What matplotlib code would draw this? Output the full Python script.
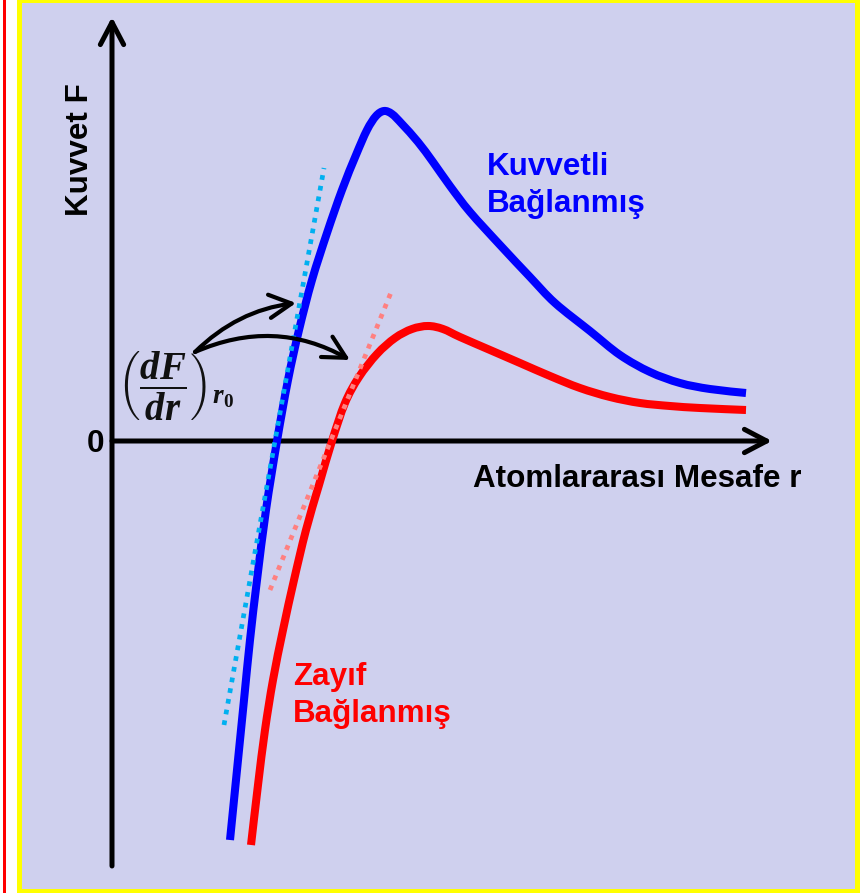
import matplotlib
matplotlib.use("Agg")
import matplotlib.pyplot as plt
import numpy as np
from matplotlib.patches import Rectangle, FancyArrowPatch, PathPatch
from matplotlib.path import Path

plt.rcParams['font.family'] = ['Liberation Sans', 'DejaVu Sans']
plt.rcParams['mathtext.fontset'] = 'custom'
plt.rcParams['mathtext.it'] = 'Liberation Serif:bold:italic'
plt.rcParams['mathtext.rm'] = 'Liberation Serif:bold'
plt.rcParams['mathtext.bf'] = 'Liberation Serif:bold'

# ---- data (r: interatomic distance, F: force; arbitrary units) ----
strong_r = [1.18, 1.25, 1.32, 1.38, 1.45, 1.54, 1.65, 1.76, 1.87, 2.00, 2.15, 2.30,
            2.44, 2.55, 2.64, 2.72, 2.80, 2.90, 3.06, 3.21, 3.38, 3.58, 3.88, 4.18,
            4.43, 4.78, 5.08, 5.38, 5.68, 5.98, 6.34]
strong_F = [-3.99, -3.29, -2.59, -1.99, -1.39, -0.69, 0.00, 0.61, 1.11, 1.61, 2.08, 2.51,
            2.86, 3.11, 3.25, 3.30, 3.27, 3.17, 2.99, 2.79, 2.55, 2.29, 1.96, 1.64,
            1.38, 1.10, 0.86, 0.69, 0.58, 0.52, 0.48]

weak_r = [1.39, 1.46, 1.53, 1.61, 1.71, 1.82, 1.94, 2.07, 2.20, 2.33, 2.47, 2.65,
          2.83, 3.00, 3.16, 3.31, 3.48, 3.78, 4.08, 4.38, 4.68, 4.98, 5.28, 5.58,
          5.88, 6.34]
weak_F = [-4.04, -3.44, -2.89, -2.39, -1.89, -1.39, -0.89, -0.44, 0.00, 0.38, 0.64, 0.87,
          1.03, 1.12, 1.15, 1.12, 1.04, 0.91, 0.78, 0.65, 0.53, 0.44, 0.38, 0.35,
          0.33, 0.31]

strong_tangent_r = [1.12, 2.12]
strong_tangent_F = [-2.84, 2.73]
weak_tangent_r = [1.58, 2.80]
weak_tangent_F = [-1.49, 1.51]

label_strong = ["Kuvvetli", "Bağlanmış"]
label_weak = ["Zayıf", "Bağlanmış"]
x_label = "Atomlararası Mesafe r"
y_label = "Kuvvet F"
origin_label = "0"
deriv_label = r'$\left(\dfrac{dF}{dr}\right)_{r_0}$'

W, H = 860, 893
fig = plt.figure(figsize=(W / 100, H / 100), dpi=100)
fig.patch.set_facecolor('white')


def frect(x0, y0, x1, y1, color, z=-5):
    fig.add_artist(Rectangle((x0 / W, 1 - y1 / H), (x1 - x0) / W, (y1 - y0) / H,
                             transform=fig.transFigure, facecolor=color,
                             edgecolor='none', zorder=z))


frect(2.5, 0, 5.5, H, '#FF0000')
frect(17, 0, 860, 893, '#FFFF00')
frect(22, 3, 855, 889, '#CFD0EE', z=-4)

ax = fig.add_axes([0, 0, 1, 1])
ax.patch.set_visible(False)
ax.set_xlim(-1.12, 7.48)
ax.set_ylim(-4.52, 4.41)
ax.axis('off')


def P(x, y):
    return ((x - 112) / 100, (441 - y) / 100)


def smooth_path(xs, ys):
    """Catmull-Rom curve through the given points, as cubic Bezier path."""
    pts = np.column_stack([xs, ys]).astype(float)
    ext = np.vstack([pts[0], pts, pts[-1]])
    verts = [pts[0]]
    codes = [Path.MOVETO]
    for i in range(1, len(ext) - 2):
        p0, p1, p2, p3 = ext[i - 1], ext[i], ext[i + 1], ext[i + 2]
        verts += [p1 + (p2 - p0) / 6, p2 - (p3 - p1) / 6, p2]
        codes += [Path.CURVE4] * 3
    return Path(verts, codes)


# axes with arrows
ax_kw = dict(arrowstyle='->,head_length=0.8,head_width=0.42', lw=3.6, color='black',
             mutation_scale=20, capstyle='round', joinstyle='round', shrinkA=0, shrinkB=0)
ax.add_patch(FancyArrowPatch(P(112, 866), P(112, 17), **ax_kw))
ax.add_patch(FancyArrowPatch(P(112, 441), P(772, 441), **ax_kw))

# curves
for xs, ys, col in [(strong_r, strong_F, '#0000FF'), (weak_r, weak_F, '#FF0000')]:
    ax.add_patch(PathPatch(smooth_path(xs, ys), facecolor='none', edgecolor=col,
                           lw=5.8, capstyle='butt', joinstyle='round', zorder=3))

# tangents (drawn over the curves)
ax.plot(strong_tangent_r, strong_tangent_F, color='#00B0F0', lw=3.4,
        linestyle=(0, (1, 1.3)), dash_capstyle='butt', zorder=4)
ax.plot(weak_tangent_r, weak_tangent_F, color='#FF8080', lw=3.4,
        linestyle=(0, (1, 1.3)), dash_capstyle='butt', zorder=4)

# curved arrows
arr_kw = dict(arrowstyle='->,head_length=0.8,head_width=0.42', lw=3.0, color='black',
              mutation_scale=20, capstyle='round', joinstyle='round', shrinkA=0, shrinkB=0,
              zorder=5)
ax.add_patch(FancyArrowPatch(P(195, 352), P(296, 303),
                             connectionstyle='arc3,rad=-0.17', **arr_kw))
ax.add_patch(FancyArrowPatch(P(195, 352), P(350, 360),
                             connectionstyle='arc3,rad=-0.25', **arr_kw))

tkw = dict(fontsize=22.6, fontweight='bold', family=['Liberation Sans', 'DejaVu Sans'])
ax.text(*P(487, 175), label_strong[0], color='#0000FF', ha='left', va='baseline', **tkw)
ax.text(*P(487, 212), label_strong[1], color='#0000FF', ha='left', va='baseline', **tkw)
ax.text(*P(293, 685), label_weak[0], color='#FF0000', ha='left', va='baseline', **tkw)
ax.text(*P(293, 722), label_weak[1], color='#FF0000', ha='left', va='baseline', **tkw)
ax.text(*P(473, 487), x_label, color='black', ha='left', va='baseline', **tkw)
ax.text(*P(88, 150), y_label, color='black', ha='center', va='baseline', rotation=90,
        rotation_mode='anchor', **tkw)
ax.text(*P(96, 452), origin_label, color='black', ha='center', va='baseline', **tkw)
ax.text(*P(117, 385), deriv_label, color='#111111', ha='left', va='center', fontsize=28)

fig.savefig('out.png', dpi=100)
